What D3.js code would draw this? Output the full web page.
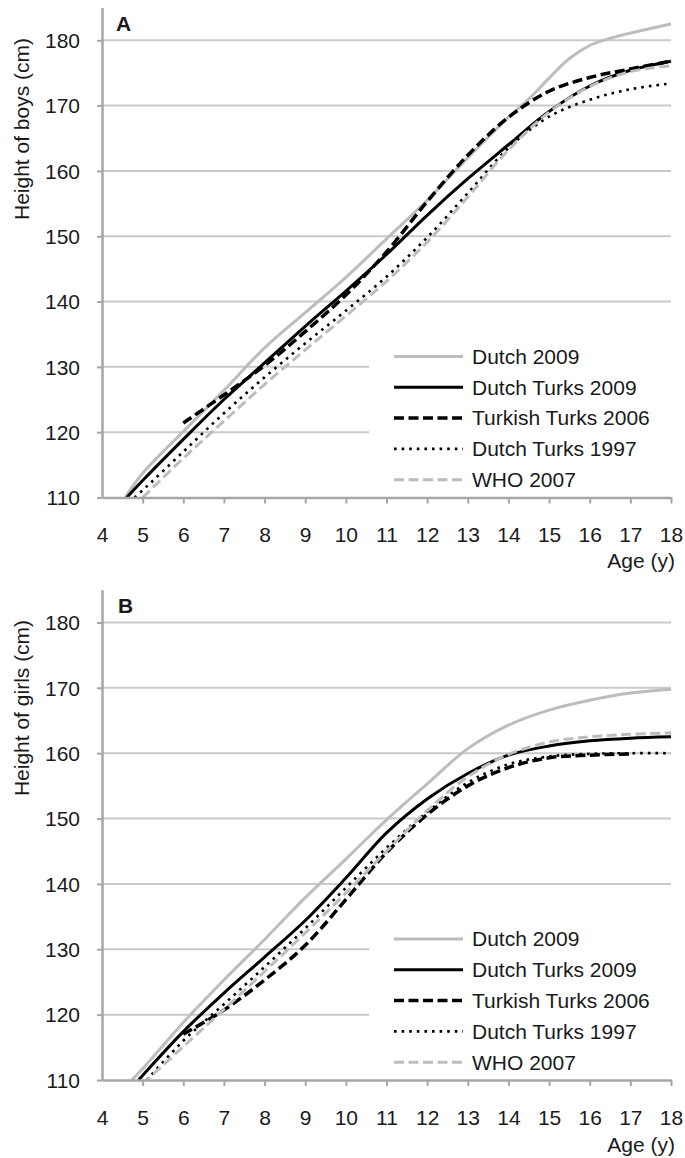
<!DOCTYPE html>
<html>
<head>
<meta charset="utf-8">
<script src="https://cdn.jsdelivr.net/npm/d3@7"></script>
<style>
  html, body { margin: 0; padding: 0; background: #fff; }
  svg { display: block; }
  text { font-family: "Liberation Sans", Arial, sans-serif; fill: #1a1a1a; }
</style>
</head>
<body>
<svg id="chart" width="685" height="1158"></svg>
<script>
// ---------- DATA ----------
const ageTicks = [4,5,6,7,8,9,10,11,12,13,14,15,16,17,18];
const heightTicks = [110,120,130,140,150,160,170,180];
const seriesNames = ["Dutch 2009","Dutch Turks 2009","Turkish Turks 2006","Dutch Turks 1997","WHO 2007"];

// Boys (panel A)
const boysDutch2009Age = [4.57,5,6,7,8,9,10,11,12,13,14,14.5,15,15.5,16,16.5,17,18];
const boysDutch2009H   = [110,113.7,120.1,126.4,132.9,138.3,143.7,149.6,155.5,162.0,168.2,171.0,174.2,177.2,179.2,180.3,181.1,182.5];
const boysDT2009Age = [4.61,5,6,7,8,9,10,11,12,13,14,15,16,17,18];
const boysDT2009H   = [110,112.6,118.9,125.0,130.6,136.2,141.6,147.2,153.2,158.8,164.0,169.1,173.0,175.4,176.8];
const boysTT2006Age = [6,7,8,9,10,11,12,13,14,15,16,17,18];
const boysTT2006H   = [121.4,125.7,130.2,135.4,141.0,147.6,155.3,162.4,168.2,172.2,174.3,175.6,176.8];
const boysDT1997Age = [4.8,5,6,7,8,9,10,11,12,13,14,15,16,17,18];
const boysDT1997H   = [110,111.1,117.0,122.9,128.4,133.6,138.6,143.8,149.8,156.6,163.5,168.3,170.9,172.5,173.4];
const boysWHOAge = [5,6,7,8,9,10,11,12,13,14,15,16,17,18];
const boysWHOH   = [110.0,116.0,121.7,127.3,132.6,137.8,143.1,149.1,156.0,163.2,169.0,172.9,175.2,176.1];

// Girls (panel B)
const girlsDutch2009Age = [4.73,5,6,7,8,9,10,11,12,13,14,15,16,17,18];
const girlsDutch2009H   = [110,111.7,118.8,125.3,131.5,137.9,143.8,149.8,155.3,160.7,164.3,166.6,168.1,169.2,169.8];
const girlsDT2009Age = [4.9,5,6,7,8,9,10,11,12,13,14,15,16,17,18];
const girlsDT2009H   = [110,110.7,117.4,123.3,128.8,134.4,140.9,147.8,153.0,156.9,159.7,161.1,161.9,162.3,162.5];
const girlsTT2006Age = [6,7,8,9,10,11,12,13,14,15,16,17];
const girlsTT2006H   = [117.0,120.7,125.3,130.6,137.6,144.8,150.6,155.0,157.8,159.3,159.7,159.9];
const girlsDT1997Age = [5.1,6,7,8,9,10,11,12,13,14,15,16,17,18];
const girlsDT1997H   = [110,116.0,121.6,127.3,133.2,139.4,145.5,151.0,155.5,158.3,159.5,159.9,160.0,160.0];
const girlsWHOAge = [5,6,7,8,9,10,11,12,13,14,15,16,17,18];
const girlsWHOH   = [109.4,115.1,120.8,126.6,132.5,138.6,145.0,151.2,156.4,159.8,161.7,162.5,162.9,163.1];

// ---------- STYLES ----------
const styles = [
  {stroke:"#bdbdbd", width:3,   dash:null},
  {stroke:"#000",    width:3,   dash:null},
  {stroke:"#000",    width:3.5, dash:"10,4.5"},
  {stroke:"#000",    width:2.6, dash:"2.6,5"},
  {stroke:"#bdbdbd", width:3,   dash:"10,4.5"}
];
const FS = 21;

const panels = [
  {label:"A", title:"Height of boys (cm)", top:7.6, bottom:497.5, titleY:129,
   labelY:31, labelX:116, ageY:568,
   series:[[boysDutch2009Age,boysDutch2009H],[boysDT2009Age,boysDT2009H],[boysTT2006Age,boysTT2006H],[boysDT1997Age,boysDT1997H],[boysWHOAge,boysWHOH]]},
  {label:"B", title:"Height of girls (cm)", top:589.8, bottom:1080, titleY:708,
   labelY:613, labelX:118, ageY:1152,
   series:[[girlsDutch2009Age,girlsDutch2009H],[girlsDT2009Age,girlsDT2009H],[girlsTT2006Age,girlsTT2006H],[girlsDT1997Age,girlsDT1997H],[girlsWHOAge,girlsWHOH]]}
];

const svg = d3.select("#chart");
const x = d3.scaleLinear().domain([4,18]).range([102,671]);

panels.forEach((p, pi) => {
  const y = d3.scaleLinear().domain([110,185]).range([p.bottom, p.top]);
  const g = svg.append("g");

  const clipId = "clip" + pi;
  svg.append("clipPath").attr("id", clipId).append("rect")
    .attr("x", x(4)).attr("y", p.top).attr("width", x(18) - x(4) + 2).attr("height", p.bottom - p.top);

  // gridlines
  g.append("g").selectAll("line").data(heightTicks.filter(v => v > 110)).join("line")
    .attr("x1", x(4)).attr("x2", x(18))
    .attr("y1", d => y(d)).attr("y2", d => y(d))
    .attr("stroke", "#c9c9c9").attr("stroke-width", 2);

  // legend background (covers gridlines)
  const legTop = y(110) - 141;
  g.append("rect").attr("x", 369).attr("y", legTop - 24).attr("width", 316).attr("height", 162)
    .attr("fill", "#fff");

  // series
  const line = d3.line().x(d => x(d[0])).y(d => y(d[1])).curve(d3.curveCatmullRom.alpha(0.5));
  p.series.forEach((s, i) => {
    const pts = s[0].map((a, k) => [a, s[1][k]]);
    const st = styles[i];
    g.append("path").datum(pts)
      .attr("clip-path", `url(#${clipId})`)
      .attr("d", line)
      .attr("fill", "none")
      .attr("stroke", st.stroke)
      .attr("stroke-width", st.width)
      .attr("stroke-dasharray", st.dash)
      .attr("stroke-linejoin", "round");
  });

  // axes
  const yAxis = d3.axisLeft(y).tickValues(heightTicks).tickSize(5).tickSizeOuter(0).tickPadding(17);
  const ya = g.append("g").attr("transform", `translate(${x(4)},0)`).call(yAxis);
  const xAxis = d3.axisBottom(x).tickValues(ageTicks).tickSize(6).tickSizeOuter(0).tickPadding(24);
  const xa = g.append("g").attr("transform", `translate(0,${y(110)})`).call(xAxis);
  [ya, xa].forEach(a => {
    a.select(".domain").attr("stroke", "#a6a6a6").attr("stroke-width", 2.5);
    a.selectAll(".tick line").attr("stroke", "#a6a6a6").attr("stroke-width", 2);
    a.selectAll(".tick text").attr("font-size", FS).attr("fill", "#1a1a1a")
      .style("font-family", '"Liberation Sans", Arial, sans-serif');
  });
  ya.selectAll(".tick text").attr("dy", "0.35em");
  xa.selectAll(".tick").filter(d => d === 4).select("line").remove();

  // titles
  g.append("text").attr("transform", `translate(28.5,${p.titleY}) rotate(-90)`)
    .attr("text-anchor", "middle").attr("font-size", FS).text(p.title);
  g.append("text").attr("x", 675).attr("y", p.ageY).attr("text-anchor", "end")
    .attr("font-size", FS).text("Age (y)");
  g.append("text").attr("x", p.labelX).attr("y", p.labelY).attr("font-size", FS)
    .attr("font-weight", "bold").text(p.label);

  // legend
  const leg = g.append("g");
  seriesNames.forEach((n, i) => {
    const ly = legTop + i * 30.8;
    const st = styles[i];
    leg.append("line").attr("x1", 394).attr("x2", 463).attr("y1", ly).attr("y2", ly)
      .attr("stroke", st.stroke).attr("stroke-width", st.width).attr("stroke-dasharray", st.dash);
    leg.append("text").attr("x", 472).attr("y", ly).attr("dy", "0.35em")
      .attr("font-size", FS).text(n);
  });
});
</script>
</body>
</html>
